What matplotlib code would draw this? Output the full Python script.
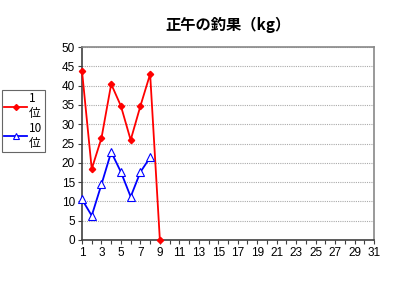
import matplotlib
matplotlib.use("Agg")
import matplotlib.pyplot as plt
from matplotlib.lines import Line2D

plt.rcParams['font.family'] = ['Liberation Sans', 'Noto Sans CJK JP', 'DejaVu Sans']

title = "正午の釣果（kg）"
days_red = [1, 2, 3, 4, 5, 6, 7, 8, 9]
first_place = [43.8, 18.4, 26.4, 40.4, 34.7, 25.9, 34.7, 43.0, 0]
days_blue = [1, 2, 3, 4, 5, 6, 7, 8]
tenth_place = [10.5, 6.3, 14.4, 22.8, 17.6, 11.2, 17.6, 21.4]
legend_labels = ["1\n位", "10\n位"]
x_ticks = list(range(1, 32, 2))
y_ticks = list(range(0, 51, 5))

fig = plt.figure(figsize=(3.94, 2.81), dpi=100)
ax = fig.add_axes([82/394, 1-240/281, (374-82)/394, (240-47)/281])

ax.plot(days_red, first_place, color='#ff0000', lw=1.3, marker='D', ms=3.2,
        mfc='#ff0000', mec='#ff0000', clip_on=False, zorder=3)
ax.plot(days_blue, tenth_place, color='#0000ff', lw=1.3, marker='^', ms=5.5,
        mfc='white', mec='#0000ff', mew=0.8, clip_on=False, zorder=3)

ax.set_xlim(1, 31)
ax.set_ylim(0, 50)
ax.set_xticks(x_ticks)
ax.set_xticks(range(1, 32), minor=True)
ax.set_yticks(y_ticks)
ax.tick_params(axis='both', direction='out', length=3, width=0.8, labelsize=8.5,
               color='#404040', pad=2)
ax.tick_params(axis='x', which='minor', direction='out', length=3, width=0.8, color='#404040')
ax.grid(axis='y', color='#aaaaaa', linestyle=(0, (1, 1)), lw=0.8)
ax.set_axisbelow(True)
for s in ['top', 'right']:
    ax.spines[s].set_color('#888888')
    ax.spines[s].set_linewidth(1.2)
for s in ['left', 'bottom']:
    ax.spines[s].set_color('#404040')
    ax.spines[s].set_linewidth(1.2)

fig.text(228/394, 1-25/281, title, ha='center', va='center', fontsize=11, fontweight='bold',
         family=['Noto Sans CJK JP', 'DejaVu Sans'])

handles = [
    Line2D([], [], color='#ff0000', lw=1.3, marker='D', ms=3, mfc='#ff0000', mec='#ff0000'),
    Line2D([], [], color='#0000ff', lw=1.3, marker='^', ms=4, mfc='white', mec='#0000ff', mew=0.8),
]
leg = fig.legend(handles, legend_labels, loc='upper left', bbox_to_anchor=(2/394, 1-90/281),
                 frameon=True, fancybox=False, edgecolor='#404040',
                 handlelength=1.9, handletextpad=0.2, borderpad=0.2, labelspacing=0.1,
                 borderaxespad=0, prop={'family': ['Noto Sans CJK JP', 'DejaVu Sans'], 'size': 8.5})
leg.get_frame().set_linewidth(0.8)

fig.savefig("out.png", dpi=100)
